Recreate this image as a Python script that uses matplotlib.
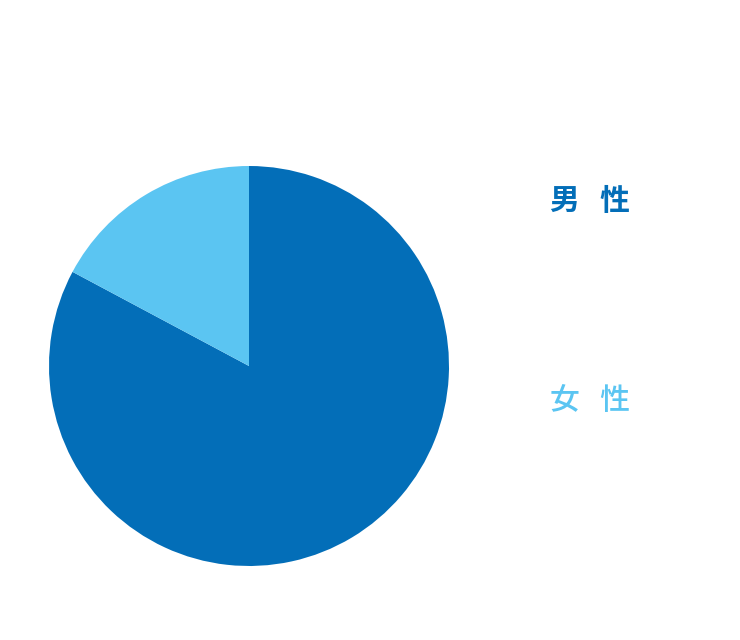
import matplotlib.pyplot as plt

plt.rcParams['font.family'] = ['Noto Sans CJK JP', 'DejaVu Sans']

labels = ['男   性', '女   性']
shares = [82.8, 17.2]
colors = ['#036EB8', '#5BC5F2']

fig = plt.figure(figsize=(7.4, 6.4), dpi=100)
ax = fig.add_axes([49 / 740, 74 / 640, 400 / 740, 400 / 640])
ax.pie(shares, colors=colors, startangle=90, counterclock=False,
       wedgeprops=dict(linewidth=0))
ax.set_xlim(-1, 1)
ax.set_ylim(-1, 1)
ax.set_aspect('equal')

fig.text(550 / 740, 1 - 201 / 640, labels[0], color=colors[0], fontsize=21.5,
         fontweight='bold', va='center', ha='left')
fig.text(550 / 740, 1 - 401 / 640, labels[1], color=colors[1], fontsize=21.5,
         fontweight='medium', va='center', ha='left')

fig.savefig('out.png', dpi=100)
